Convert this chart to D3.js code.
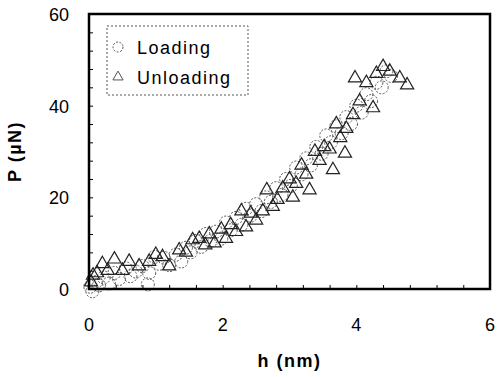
<!DOCTYPE html>
<html>
<head>
<meta charset="utf-8">
<script src="https://cdn.jsdelivr.net/npm/d3@7"></script>
<style>
  body { margin: 0; background: #fff; }
  text { font-family: Arial, "Liberation Sans", sans-serif; }
</style>
</head>
<body>
<div id="chart"></div>
<script>
// values (h in nm, P in uN)
const loadH = [0.02, 0.05, 0.1, 0.15, 0.22, 0.3, 0.38, 0.45, 0.55, 0.62, 0.7, 0.8, 0.88, 0.9, 0.98, 1.05, 1.12, 1.2, 1.3, 1.38, 1.45, 1.52, 1.6, 1.68, 1.75, 1.82, 1.9, 1.98, 2.05, 2.12, 2.2, 2.28, 2.35, 2.42, 2.5, 2.58, 2.65, 2.72, 2.8, 2.88, 2.95, 3.02, 3.1, 3.18, 3.25, 3.32, 3.4, 3.48, 3.55, 3.62, 3.7, 3.78, 3.85, 3.92, 4.0, 4.08, 4.15, 4.22, 4.3, 4.38, 4.45, 4.52];
const loadP = [0.5, -0.5, 1.5, 0.8, 2.5, 1.2, 3.5, 2.2, 4.5, 2.8, 3.8, 5.0, 1.0, 3.5, 7.0, 5.5, 6.8, 5.2, 7.5, 6.0, 9.0, 8.0, 10.5, 9.2, 12.0, 10.5, 12.5, 11.0, 14.5, 12.8, 15.5, 14.0, 17.5, 16.0, 18.5, 17.0, 20.0, 19.0, 22.0, 20.5, 24.0, 22.5, 26.5, 25.0, 28.5, 27.0, 31.0, 29.5, 33.5, 32.0, 35.5, 34.0, 37.5, 36.0, 40.0, 38.5, 42.5, 41.0, 45.0, 44.0, 47.5, 46.5];

const unloadH = [4.76, 4.65, 4.5, 4.4, 4.3, 4.25, 4.15, 4.05, 3.98, 3.95, 3.85, 3.83, 3.76, 3.7, 3.65, 3.6, 3.52, 3.45, 3.38, 3.3, 3.25, 3.18, 3.1, 3.05, 3.0, 2.9, 2.82, 2.75, 2.66, 2.6, 2.5, 2.42, 2.35, 2.28, 2.2, 2.12, 2.05, 1.98, 1.88, 1.8, 1.74, 1.65, 1.55, 1.45, 1.35, 1.2, 1.1, 1.0, 0.9, 0.75, 0.6, 0.5, 0.38, 0.28, 0.2, 0.12, 0.06, 0.03];
const unloadP = [44.5, 46, 47.5, 48.5, 47, 39.5, 45, 41, 46, 38, 35, 29.6, 33, 36, 26, 30.5, 31, 28, 30, 21.6, 25, 27, 23, 20, 24, 22, 19.5, 18, 21.6, 17, 15, 16.5, 13.5, 17, 12.5, 14, 11, 13, 10, 12, 9.6, 11, 10.7, 8, 8.5, 5, 7, 7.5, 6, 5, 6, 4, 6.5, 4, 5.5, 3.5, 3, 1.5];

const xTicks = [0, 2, 4, 6];
const yTicks = [0, 20, 40, 60];
const legendLabels = ['Loading', 'Unloading'];

const width = 499, height = 377;
const margin = { left: 89, right: 9, top: 14, bottom: 88 };

const svg = d3.select('#chart').append('svg')
    .attr('width', width)
    .attr('height', height);

const x = d3.scaleLinear().domain([0, 6]).range([margin.left, width - margin.right]);
const y = d3.scaleLinear().domain([0, 60]).range([height - margin.bottom, margin.top]);

const markColor = '#555';

// markers
const loading = loadH.map((h, i) => [h, loadP[i]]);
const unloading = unloadH.map((h, i) => [h, unloadP[i]]);
const tri = d3.symbol().type(d3.symbolTriangle).size(75);

svg.append('g').selectAll('circle')
    .data(loading)
    .enter()
    .append('circle')
    .attr('cx', d => x(d[0]))
    .attr('cy', d => y(d[1]))
    .attr('r', 6.5)
    .attr('fill', 'none')
    .attr('stroke', markColor)
    .attr('stroke-width', 1)
    .attr('stroke-dasharray', '2,1.5');

svg.append('g').selectAll('path')
    .data(unloading)
    .enter()
    .append('path')
    .attr('d', tri)
    .attr('transform', d => `translate(${x(d[0])},${y(d[1])})`)
    .attr('fill', 'none')
    .attr('stroke', '#222')
    .attr('stroke-width', 1.2);

// minor ticks pointing inward
const xMinor = d3.range(0, 6.001, 0.4);
const yMinor = d3.range(0, 60.001, 4);

svg.append('g')
    .attr('transform', `translate(0,${y(0)})`)
    .call(d3.axisBottom(x).tickValues(xMinor).tickSize(-4).tickFormat(''))
    .call(g => g.select('.domain').remove());

svg.append('g')
    .attr('transform', `translate(${x(0)},0)`)
    .call(d3.axisLeft(y).tickValues(yMinor).tickSize(-4).tickFormat(''))
    .call(g => g.select('.domain').remove());

// frame
svg.append('rect')
    .attr('x', x(0))
    .attr('y', y(60))
    .attr('width', x(6) - x(0))
    .attr('height', y(0) - y(60))
    .attr('fill', 'none')
    .attr('stroke', '#000')
    .attr('stroke-width', 2.5);

// tick labels
svg.append('g').selectAll('text')
    .data(xTicks)
    .enter()
    .append('text')
    .attr('x', d => x(d))
    .attr('y', y(0) + 42)
    .attr('text-anchor', 'middle')
    .style('font-size', '18px')
    .text(d => d);

svg.append('g').selectAll('text')
    .data(yTicks)
    .enter()
    .append('text')
    .attr('x', x(0) - 20)
    .attr('y', d => y(d) + 7)
    .attr('text-anchor', 'end')
    .style('font-size', '18px')
    .text(d => d);

// axis titles
svg.append('text')
    .attr('x', (x(0) + x(6)) / 2)
    .attr('y', 367)
    .attr('text-anchor', 'middle')
    .style('font-size', '18px')
    .style('font-weight', 'bold')
    .style('letter-spacing', '1.5px')
    .text('h (nm)');

svg.append('text')
    .attr('transform', `translate(21,${(y(0) + y(60)) / 2}) rotate(-90)`)
    .attr('text-anchor', 'middle')
    .style('font-size', '18px')
    .style('font-weight', 'bold')
    .style('letter-spacing', '1.5px')
    .text('P (µN)');

// legend
const legend = svg.append('g');
legend.append('rect')
    .attr('x', 107)
    .attr('y', 26)
    .attr('width', 141)
    .attr('height', 69)
    .attr('fill', '#fff')
    .attr('stroke', '#555')
    .attr('stroke-width', 1)
    .attr('stroke-dasharray', '2,2');

const item = legend.selectAll('.item')
    .data(legendLabels)
    .enter()
    .append('g')
    .attr('class', 'item')
    .attr('transform', (d, i) => `translate(118,${47 + i * 30})`);

item.filter((d, i) => i === 0).append('circle')
    .attr('r', 5)
    .attr('fill', 'none')
    .attr('stroke', markColor)
    .attr('stroke-dasharray', '2,1.5');

item.filter((d, i) => i === 1).append('path')
    .attr('d', d3.symbol().type(d3.symbolTriangle).size(45))
    .attr('fill', 'none')
    .attr('stroke', markColor);

item.append('text')
    .attr('x', 19)
    .attr('y', 6.5)
    .style('font-size', '18px')
    .style('letter-spacing', '1.5px')
    .text(d => d);
</script>
</body>
</html>
